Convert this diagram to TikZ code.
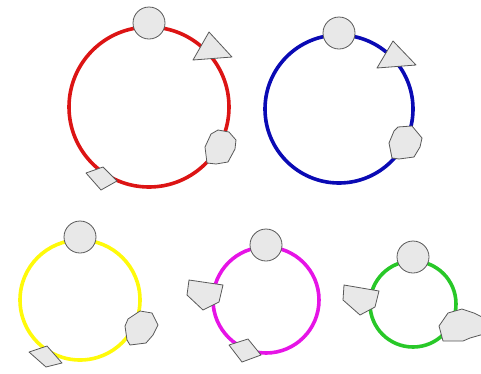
\documentclass[tikz,border=0pt]{standalone}
\begin{document}
\begin{tikzpicture}[x=1pt,y=-1pt,
  ring/.style={line width=3.6pt},
  piece/.style={fill=black!9,draw=black!65,line width=0.8pt,line join=round}]
\useasboundingbox (0,0) rectangle (481,373);
\begin{scope}
\clip (0,0) rectangle (481,373);
\definecolor{cred}{RGB}{220,20,20}
\definecolor{cblue}{RGB}{10,10,180}
\definecolor{cyel}{RGB}{255,250,10}
\definecolor{cmag}{RGB}{230,20,230}
\definecolor{cgreen}{RGB}{40,200,40}
% red
\draw[ring,cred] (149,107) circle (80);
\draw[piece] (149,23) circle (16);
\draw[piece] (209,32) -- (193,60) -- (232,57) -- cycle;
\draw[piece] (211,134) -- (218,130) -- (229,132) -- (236,140) -- (235,149) -- (228,162) -- (216,164) -- (207,163) -- (205,147) -- cycle;
\draw[piece] (86,173) -- (103,167) -- (117,181) -- (101,190) -- cycle;
% blue
\draw[ring,cblue] (339,109) circle (74);
\draw[piece] (339,33) circle (16);
\draw[piece] (393,41) -- (377,68) -- (416,65) -- cycle;
\draw[piece] (394,131) -- (398,127) -- (412,126) -- (422,138) -- (420,147) -- (414,157) -- (399,159) -- (392,158) -- (389,143) -- cycle;
% yellow
\draw[ring,cyel] (80,300) circle (60);
\draw[piece] (80,237) circle (16);
\draw[piece] (128,319) -- (140,311) -- (152,313) -- (158,325) -- (153,335) -- (146,343) -- (130,345) -- (127,340) -- (125,326) -- cycle;
\draw[piece] (29,352) -- (47,346) -- (62,363) -- (46,367) -- cycle;
% magenta
\draw[ring,cmag] (266,300) circle (53);
\draw[piece] (266,245) circle (16);
\draw[piece] (189,280) -- (223,285) -- (219,302) -- (203,310) -- (187,295) -- cycle;
\draw[piece] (229,345) -- (248,339) -- (261,355) -- (242,362) -- cycle;
% green
\draw[ring,cgreen] (413,304) circle (43);
\draw[piece] (413,257) circle (16);
\draw[piece] (344,285) -- (379,291) -- (375,307) -- (360,315) -- (343,300) -- cycle;
\draw[piece] (439,326) -- (448,313) -- (462,309) -- (474,313) -- (484,318) -- (484,334) -- (470,338) -- (463,341) -- (443,341) -- cycle;
\end{scope}
\end{tikzpicture}
\end{document}
